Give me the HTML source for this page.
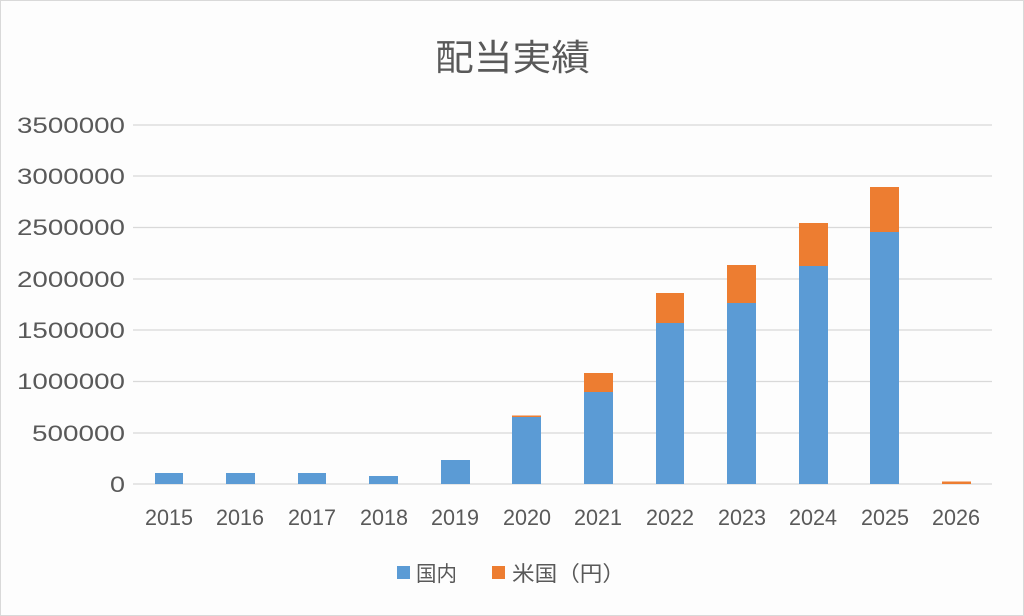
<!DOCTYPE html><html><head><meta charset="utf-8"><style>body{margin:0;background:#fff}svg{display:block}</style></head><body>
<svg width="1024" height="616" xmlns="http://www.w3.org/2000/svg" font-family="Liberation Sans, Noto Sans CJK JP, sans-serif">
<rect x="0.5" y="0.5" width="1023" height="615" fill="#fdfdfd" stroke="#d9d9d9"/>
<text x="435" y="70" font-size="36" fill="#595959" textLength="155" lengthAdjust="spacingAndGlyphs">配当実績</text>
<g stroke="#d9d9d9" stroke-width="1.3">
<line x1="133" x2="992" y1="125" y2="125"/><line x1="133" x2="992" y1="176" y2="176"/><line x1="133" x2="992" y1="227.5" y2="227.5"/><line x1="133" x2="992" y1="279" y2="279"/><line x1="133" x2="992" y1="330" y2="330"/><line x1="133" x2="992" y1="381.5" y2="381.5"/><line x1="133" x2="992" y1="433" y2="433"/><line x1="133" x2="992" y1="484" y2="484"/>
</g>
<g font-size="22" fill="#595959">
<text x="17" y="133" textLength="108" lengthAdjust="spacingAndGlyphs">3500000</text><text x="17" y="184" textLength="108" lengthAdjust="spacingAndGlyphs">3000000</text><text x="17" y="235" textLength="108" lengthAdjust="spacingAndGlyphs">2500000</text><text x="17" y="287" textLength="108" lengthAdjust="spacingAndGlyphs">2000000</text><text x="17" y="338" textLength="108" lengthAdjust="spacingAndGlyphs">1500000</text><text x="17" y="389" textLength="108" lengthAdjust="spacingAndGlyphs">1000000</text><text x="32" y="441" textLength="93" lengthAdjust="spacingAndGlyphs">500000</text><text x="110" y="492" textLength="15" lengthAdjust="spacingAndGlyphs">0</text>
</g>
<g fill="#5b9bd5">
<rect x="155" y="473" width="28" height="11"/><rect x="226" y="473" width="29" height="11"/><rect x="298" y="473" width="28" height="11"/><rect x="369" y="476" width="29" height="8"/><rect x="441" y="460" width="29" height="24"/><rect x="512" y="417" width="29" height="67"/><rect x="584" y="392" width="29" height="92"/><rect x="656" y="323" width="28" height="161"/><rect x="727" y="303" width="29" height="181"/><rect x="799" y="266" width="29" height="218"/><rect x="870" y="232" width="29" height="252"/>
</g>
<g fill="#ed7d31">
<rect x="512" y="415.5" width="29" height="1.5"/><rect x="584" y="373" width="29" height="19"/><rect x="656" y="293" width="28" height="30"/><rect x="727" y="265" width="29" height="38"/><rect x="799" y="223" width="29" height="43"/><rect x="870" y="187" width="29" height="45"/><rect x="942" y="481.5" width="29" height="2.5"/>
</g>
<g font-size="22" fill="#595959">
<text x="145" y="525" textLength="48" lengthAdjust="spacingAndGlyphs">2015</text><text x="216" y="525" textLength="48" lengthAdjust="spacingAndGlyphs">2016</text><text x="288" y="525" textLength="48" lengthAdjust="spacingAndGlyphs">2017</text><text x="360" y="525" textLength="48" lengthAdjust="spacingAndGlyphs">2018</text><text x="431" y="525" textLength="48" lengthAdjust="spacingAndGlyphs">2019</text><text x="503" y="525" textLength="48" lengthAdjust="spacingAndGlyphs">2020</text><text x="574" y="525" textLength="48" lengthAdjust="spacingAndGlyphs">2021</text><text x="646" y="525" textLength="48" lengthAdjust="spacingAndGlyphs">2022</text><text x="718" y="525" textLength="48" lengthAdjust="spacingAndGlyphs">2023</text><text x="789" y="525" textLength="48" lengthAdjust="spacingAndGlyphs">2024</text><text x="861" y="525" textLength="48" lengthAdjust="spacingAndGlyphs">2025</text><text x="932" y="525" textLength="48" lengthAdjust="spacingAndGlyphs">2026</text>
</g>
<rect x="397" y="566" width="13" height="13" fill="#5b9bd5"/>
<text x="416" y="581" font-size="21" fill="#595959" textLength="41" lengthAdjust="spacingAndGlyphs">国内</text>
<rect x="492" y="566" width="13" height="13" fill="#ed7d31"/>
<text x="512" y="581" font-size="21" fill="#595959" textLength="113" lengthAdjust="spacingAndGlyphs">米国（円）</text>
</svg></body></html>
